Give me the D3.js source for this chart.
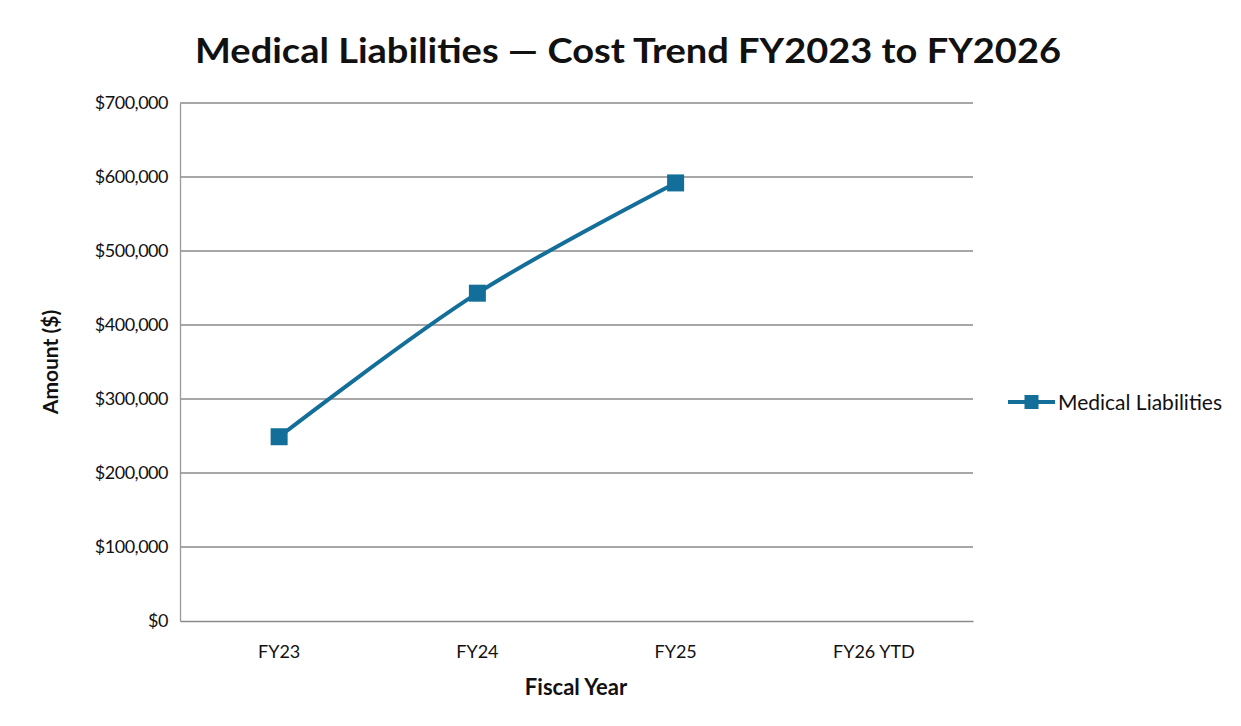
<!DOCTYPE html>
<html>
<head>
<meta charset="utf-8">
<script src="https://cdn.jsdelivr.net/npm/d3@7"></script>
<style>
  html, body { margin: 0; padding: 0; background: #fff; }
  svg text { font-family: Lato, "Open Sans", "DejaVu Sans", sans-serif; fill: #111; }
</style>
</head>
<body>
<svg id="chart" width="1241" height="726"></svg>
<script>
// Fiscal years and recorded medical liability totals (FY26 YTD not yet reported)
const categories = ["FY23", "FY24", "FY25", "FY26 YTD"];
const medicalLiabilities = [249000, 443000, 592000, null];
const yTicks = [0, 100000, 200000, 300000, 400000, 500000, 600000, 700000];
const seriesName = "Medical Liabilities";
const titleText = "Medical Liabilities \u2014 Cost Trend FY2023 to FY2026";

const svg = d3.select("#chart");
const plot = { left: 180, right: 973, top: 103, bottom: 621 };
const lineColor = "#136f99";

const x = d3.scaleBand().domain(categories).range([plot.left, plot.right]);
const y = d3.scaleLinear().domain([0, 700000]).range([plot.bottom, plot.top]);

// Title
svg.append("text")
  .attr("x", 628).attr("y", 63)
  .attr("text-anchor", "middle")
  .style("font-size", "35px").style("font-weight", "700")
  .attr("textLength", 866).attr("lengthAdjust", "spacingAndGlyphs")
  .text(titleText);

// Horizontal gridlines
svg.append("g")
  .selectAll("line")
  .data(yTicks.filter(d => d > 0))
  .join("line")
  .attr("x1", plot.left).attr("x2", plot.right)
  .attr("y1", d => y(d)).attr("y2", d => y(d))
  .attr("stroke", "#8a8a8a").attr("stroke-width", 1.3);

// Y axis
const yAxis = svg.append("g")
  .attr("transform", `translate(${plot.left},0)`)
  .call(d3.axisLeft(y).tickValues(yTicks).tickSize(0).tickPadding(12)
    .tickFormat(d => "$" + d3.format(",")(d)));
yAxis.select(".domain").attr("stroke", "#9a9a9a").attr("stroke-width", 1.3);
yAxis.selectAll("text").style("font-size", "18px").style("letter-spacing", "-0.5px").attr("fill", "#111");

// X axis
const xAxis = svg.append("g")
  .attr("transform", `translate(0,${plot.bottom})`)
  .call(d3.axisBottom(x).tickSize(0).tickPadding(24));
xAxis.select(".domain").attr("stroke", "#8a8a8a").attr("stroke-width", 1.3);
xAxis.selectAll("text").style("font-size", "18px").attr("fill", "#111");

// Axis titles
svg.append("text")
  .attr("transform", "translate(58,362) rotate(-90)")
  .attr("text-anchor", "middle")
  .style("font-size", "21px").style("font-weight", "700")
  .text("Amount ($)");
svg.append("text")
  .attr("x", 576).attr("y", 695)
  .attr("text-anchor", "middle")
  .style("font-size", "22px").style("font-weight", "700")
  .text("Fiscal Year");

// Series line and markers
const pts = categories.map((c, i) => ({ c, v: medicalLiabilities[i] })).filter(d => d.v != null);
const line = d3.line()
  .x(d => x(d.c) + x.bandwidth() / 2)
  .y(d => y(d.v))
  .curve(d3.curveCatmullRom.alpha(0.5));
svg.append("path")
  .datum(pts)
  .attr("d", line)
  .attr("fill", "none")
  .attr("stroke", lineColor)
  .attr("stroke-width", 4);

const ms = 17;
svg.append("g")
  .selectAll("rect")
  .data(pts)
  .join("rect")
  .attr("x", d => x(d.c) + x.bandwidth() / 2 - ms / 2)
  .attr("y", d => y(d.v) - ms / 2)
  .attr("width", ms).attr("height", ms)
  .attr("fill", lineColor);

// Legend
const lg = svg.append("g").attr("transform", "translate(1008,402)");
lg.append("line").attr("x1", 0).attr("x2", 47).attr("y1", 0).attr("y2", 0)
  .attr("stroke", lineColor).attr("stroke-width", 4);
lg.append("rect").attr("x", 23.5 - 7).attr("y", -7).attr("width", 14).attr("height", 14)
  .attr("fill", lineColor);
lg.append("text").attr("x", 50).attr("y", 8)
  .style("font-size", "21px")
  .text(seriesName);
</script>
</body>
</html>
